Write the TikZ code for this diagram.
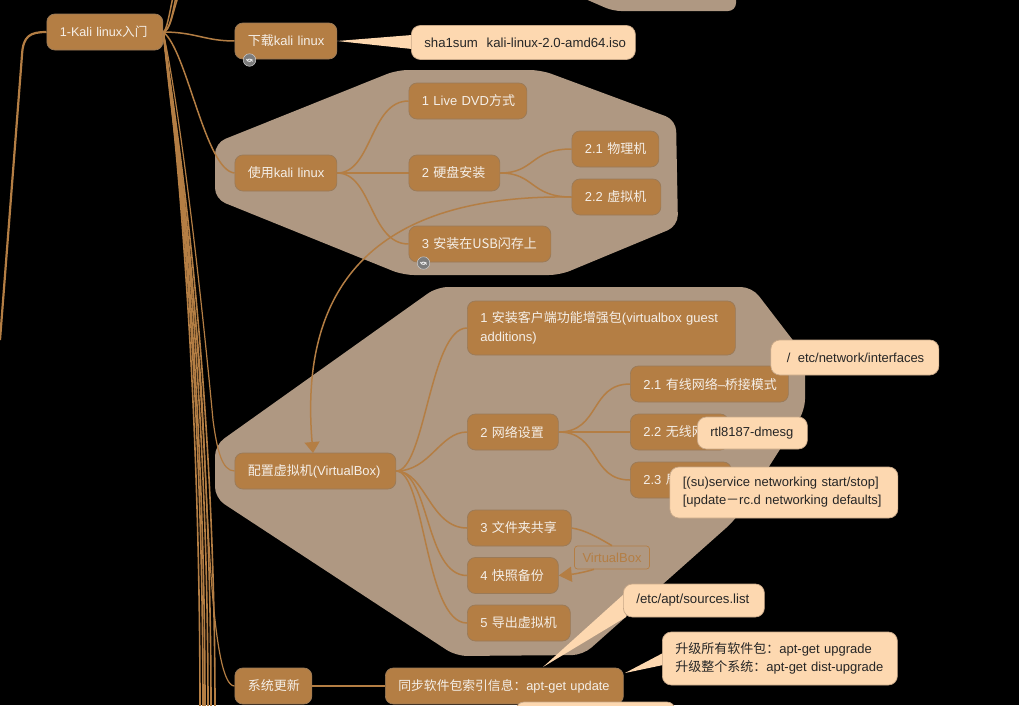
\documentclass[tikz,border=0pt]{standalone}
\usepackage{fontspec}
\setmainfont{Liberation Sans}
\newfontfamily\cjk{Noto Sans CJK SC}
\usetikzlibrary{arrows.meta,backgrounds}
\definecolor{nodebr}{HTML}{B47E44}
\definecolor{nodeedge}{HTML}{9A7A58}
\definecolor{hull}{HTML}{AF9882}
\definecolor{notefill}{HTML}{FDD8B0}
\definecolor{noteedge}{HTML}{C8A888}
\definecolor{nodetxt}{HTML}{F5EFE8}
\definecolor{iconc}{HTML}{7C7C7C}
\newcommand{\zh}[1]{{\cjk #1}}
\newcommand{\pad}{\hspace*{10pt}}
\tikzset{
  topicbox/.style={draw=nodeedge,line width=0.7pt,fill=nodebr,rounded corners=8pt,text=nodetxt,font=\fontsize{13}{19}\selectfont,inner xsep=3pt,inner ysep=0pt,text width=#1pt-6pt,minimum height=36pt,anchor=west,align=left},
  notebox/.style={draw=noteedge,line width=0.7pt,fill=notefill,rounded corners=9pt,text=black!85,font=\fontsize{13}{18}\selectfont,inner xsep=3pt,inner ysep=0pt,text width=#1pt-6pt,anchor=west,align=left},
  link/.style={draw=nodebr,line width=1.5pt},
  hullshape/.style={fill=hull,rounded corners=11pt},
  iconball/.style={circle,draw=white!60!gray,line width=0.5pt,fill=iconc,minimum size=12.5pt,inner sep=0pt},
}
\begin{document}
\begin{tikzpicture}[x=1pt,y=-1pt]
\useasboundingbox (0,0) rectangle (1019,705);
% nodes
\node[topicbox=116,font=\fontsize{12.6}{19}\selectfont] (kali) at (46.5,32) {\pad 1-Kali linux\zh{入门}};
\node[topicbox=102] (down) at (234.5,41) {\pad\zh{下载}kali linux};
\node[topicbox=102] (use) at (234.5,173) {\pad\zh{使用}kali linux};
\node[topicbox=118] (live) at (408.5,101) {\pad 1 Live DVD\zh{方式}};
\node[topicbox=91] (disk) at (408.5,173) {\pad 2 \zh{硬盘安装}};
\node[topicbox=87] (phys) at (571.5,149) {\pad 2.1 \zh{物理机}};
\node[topicbox=89] (virt) at (571.5,197) {\pad 2.2 \zh{虚拟机}};
\node[topicbox=142] (usb) at (408.5,244) {\pad 3 \zh{安装在USB闪存上}};
\node[topicbox=161] (vbox) at (234.5,471) {\pad\zh{配置虚拟机}(VirtualBox)};
\node[topicbox=268,minimum height=54pt] (guest) at (467,328) {\pad 1 \zh{安装客户端功能增强包}(virtualbox guest\\\pad additions)};
\node[topicbox=91] (net) at (467,432) {\pad 2 \zh{网络设置}};
\node[topicbox=158] (wired) at (630,384) {\pad 2.1 \zh{有线网络}--\zh{桥接模式}};
\node[topicbox=98] (wifi) at (630,432) {\pad 2.2 \zh{无线网}};
\node[topicbox=101] (other) at (630,480) {\pad 2.3 \zh{局}};
\node[topicbox=104] (share) at (467,528) {\pad 3 \zh{文件夹共享}};
\node[topicbox=91] (snap) at (467,575.5) {\pad 4 \zh{快照备份}};
\node[topicbox=103] (export) at (467,623) {\pad 5 \zh{导出虚拟机}};
\node[topicbox=77] (upd) at (234.5,686) {\pad\zh{系统更新}};
\node[topicbox=238,font=\fontsize{12.8}{19}\selectfont] (sync) at (385,686) {\pad\zh{同步软件包索引信息：}apt-get update};
\begin{pgfonlayer}{background}
\fill[black] (0,0) rectangle (1019,705);
% hulls
\fill[hull,rounded corners=8pt] (560,-12) -- (613,11) -- (736,11) -- (736,-20) -- cycle;
\fill[hullshape] (215,143) -- (397,70) -- (541,70) -- (676,120) -- (678,226) -- (560,275) -- (403,275) -- (215,199) -- cycle;
\fill[hullshape] (215,445) -- (437,287) -- (752,287) -- (805,356) -- (805,410) -- (735,520) -- (583,655) -- (456,656) -- (215,498) -- cycle;
% connectors
\draw[link] (kali.east) .. controls (195,32) and (205,41) .. (down.west);
\draw[link] (kali.east) .. controls (187,50) and (205,170) .. (use.west);
\draw[link] (kali.east) .. controls (170,30) and (172,15) .. (176,-3);
\draw[link] (kali.east) .. controls (167,30) and (169,15) .. (173,-3);
\draw[link] (kali.east) .. controls (170,31) and (172,15) .. (178,-3);
\draw[link,line width=2.2pt] (kali.west) .. controls (30,32) and (23,36) .. (22,55) -- (0,340);
\draw[link,line width=1.2pt] (kali.east) .. controls (178,100) and (198,260) .. (213,420) .. controls (217,450) and (222,471) .. (vbox.west);
\draw[link,line width=1.2pt] (kali.east) .. controls (172,130) and (198,300) .. (203,420) .. controls (208,520) and (212,686) .. (upd.west);
\foreach \d in {200,203,205,208,211,215}{
  \draw[nodebr,line width=1.6pt] (kali.east) .. controls (172,100) and (\d,350) .. (\d,710);
}
\draw[link] (use.east) .. controls (372,173) and (370,101) .. (live.west);
\draw[link] (use.east) -- (disk.west);
\draw[link] (use.east) .. controls (372,173) and (370,244) .. (usb.west);
\draw[link] (disk.east) .. controls (535,173) and (530,149) .. (phys.west);
\draw[link] (disk.east) .. controls (535,173) and (530,197) .. (virt.west);
\draw[link] (vbox.east) .. controls (425,471) and (430,328) .. (guest.west);
\draw[link] (vbox.east) .. controls (430,471) and (440,432) .. (net.west);
\draw[link] (vbox.east) .. controls (425,471) and (430,528) .. (share.west);
\draw[link] (vbox.east) .. controls (430,471) and (425,575.5) .. (snap.west);
\draw[link] (vbox.east) .. controls (425,471) and (425,623) .. (export.west);
\draw[link] (net.east) .. controls (600,432) and (590,384) .. (wired.west);
\draw[link] (net.east) -- (wifi.west);
\draw[link] (net.east) .. controls (600,432) and (590,480) .. (other.west);
\draw[link] (upd.east) -- (sync.west);
\end{pgfonlayer}
% relationship arrows
\draw[link,-{Triangle[length=11pt,width=15pt]}] (virt.west) .. controls (430,195) and (295,240) .. (313,453);
\node[draw=nodebr,rounded corners=3pt,line width=0.7pt,text=nodebr,font=\fontsize{13}{15}\selectfont,minimum width=75pt,minimum height=23pt,inner sep=0pt] (vlab) at (612,557.5) {VirtualBox};
\draw[link] (share.east) .. controls (585,530) and (597,537) .. (vlab.north);
\draw[link,-{Triangle[length=13pt,width=15pt]}] (vlab.south) ++(-18,0) coordinate (vs) (vs) .. controls (585,572) and (575,574) .. (snap.east);
% icons
\node[iconball] (i1) at (249.5,60) {};
\draw[white!85!gray,line width=0.9pt] (i1.center) ++(-3,-1) arc (170:20:3);
\draw[white!85!gray,line width=0.9pt] (i1.center) ++(3,1.5) arc (-10:-150:3);
\node[iconball] (i2) at (423.5,263) {};
\draw[white!85!gray,line width=0.9pt] (i2.center) ++(-3,-1) arc (170:20:3);
\draw[white!85!gray,line width=0.9pt] (i2.center) ++(3,1.5) arc (-10:-150:3);
% notes
\coordinate (t1) at (337,41);
\coordinate (t2) at (543,667);
\coordinate (t3) at (625,673);
\fill[notefill] (t1) -- (412,35) -- (412,49) -- cycle;
\fill[notefill] (t2) -- (624,594) -- (626,617) -- cycle;
\fill[notefill] (t3) -- (663,653) -- (663,665) -- cycle;
\node[notebox=224,minimum height=34pt,font=\fontsize{13.2}{18}\selectfont] (sha) at (411,42.5) {\pad sha1sum\ \ kali-linux-2.0-amd64.iso};
\node[notebox=168,minimum height=35pt] (eth) at (770.5,357.5) {\hspace*{13pt}/\hspace{3pt} etc/network/interfaces};
\node[notebox=110,minimum height=32pt] (rtl) at (697,433) {\pad rtl8187-dmesg};
\node[notebox=228,minimum height=51pt] (svc) at (669.5,492.5) {\pad [(su)service networking start/stop]\\\pad {}[update\zh{－}rc.d networking defaults]};
\node[notebox=141,minimum height=33pt,font=\fontsize{13.2}{18}\selectfont] (src) at (623,600.5) {\pad /etc/apt/sources.list};
\node[notebox=235,minimum height=53pt] (upg) at (662,658.5) {\pad\zh{升级所有软件包：}apt-get upgrade\\\pad\zh{升级整个系统：}apt-get dist-upgrade};
\fill[notefill,draw=noteedge,line width=0.7pt,rounded corners=8pt] (516,725) -- (516,702) -- (675,702) -- (675,725) -- cycle;
\end{tikzpicture}
\end{document}
